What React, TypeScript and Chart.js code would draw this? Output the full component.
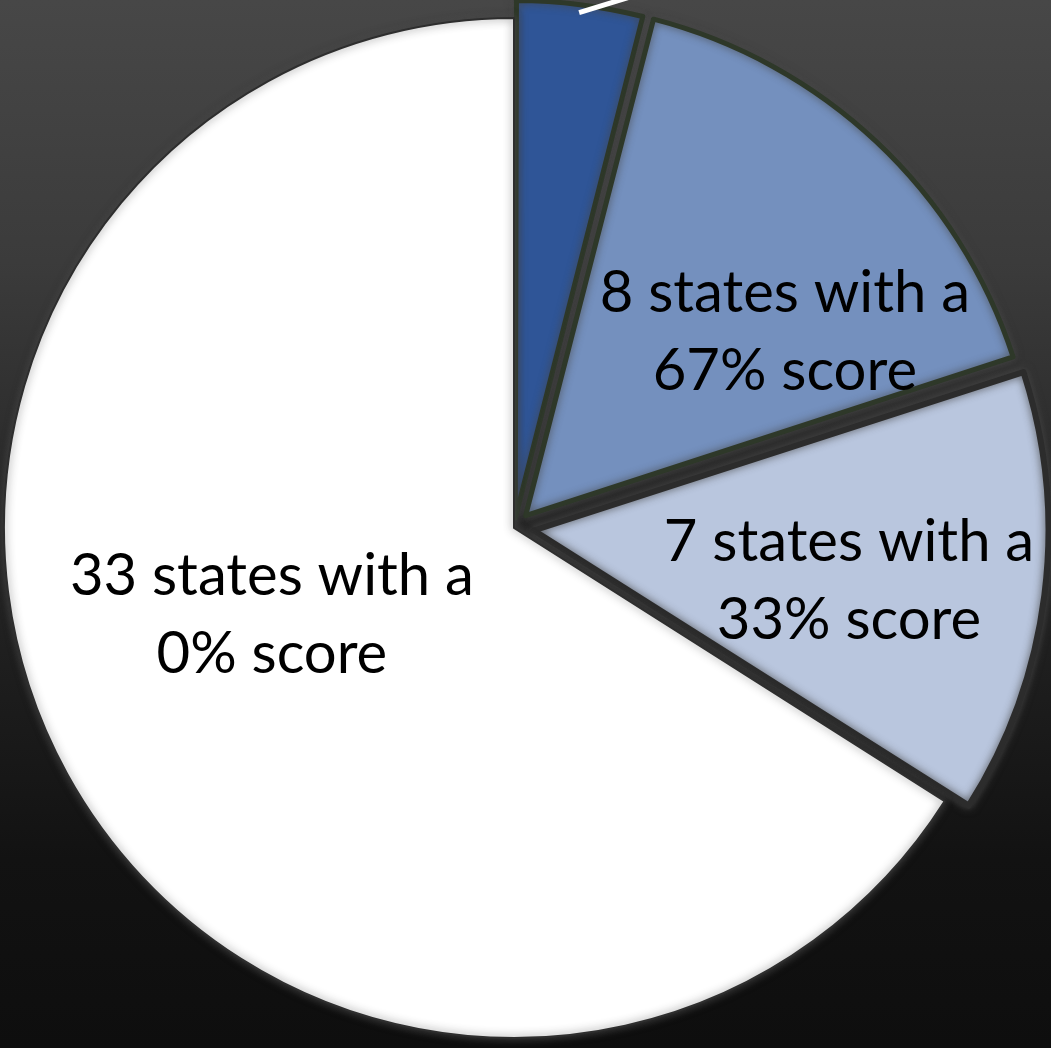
import React, { useEffect, useRef } from "react";
import { Chart, registerables } from "chart.js";

Chart.register(...registerables);

// ---- data ----
const categories = [
  "2 states with a 100% score",
  "8 states with a 67% score",
  "7 states with a 33% score",
  "33 states with a 0% score",
];
const stateCounts = [2, 8, 7, 33];
const labelLines = [
  ["2 states with a", "100% score"],
  ["8 states with a", "67% score"],
  ["7 states with a", "33% score"],
  ["33 states with a", "0% score"],
];

// ---- styles ----
const sliceColors = ["#2F5597", "#7490BE", "#B9C6DE", "#FFFFFF"];
const sliceBorderColors = ["#2E3829", "#2E3829", "#2C2C2C", "#2E2E2E"];
const sliceBorderWidths = [5, 5, 6, 2];
const sliceExplode = [40, 68, 80, 0]; // chart.js offset option (px*4)
// label anchor: angle (deg, clockwise from top) and distance from slice vertex
const labelAngleDeg = [20, 54.6, 98.9, 250.4];
const labelDistance = [620, 318, 319, 257];
const LABEL_FONT = "58px Lato, 'Open Sans', sans-serif";
const LINE_GAP = 78;

const labelPlugin = {
  id: "sliceLabels",
  beforeDatasetsDraw(chart: any) {
    const ctx = chart.ctx;
    ctx.save();
    ctx.shadowColor = "rgba(70,70,70,0.9)";
    ctx.shadowBlur = 8;
  },
  afterDatasetsDraw(chart: any) {
    const ctx = chart.ctx;
    ctx.restore();
    const meta = chart.getDatasetMeta(0);
    meta.data.forEach((el: any, i: number) => {
      const mid = (el.startAngle + el.endAngle) / 2;
      const t = (el.options.offset || 0) / 4;
      const vx = el.x + Math.cos(mid) * t;
      const vy = el.y + Math.sin(mid) * t;
      const a = (labelAngleDeg[i] * Math.PI) / 180;
      const ax = vx + Math.sin(a) * labelDistance[i];
      const ay = vy - Math.cos(a) * labelDistance[i];
      ctx.save();
      if (i === 0) {
        // leader line from slice edge toward the (off-page) label
        const fix = 1 - Math.sin(Math.min(Math.PI, el.circumference));
        const R = el.outerRadius + t * fix - 8;
        const sx = vx + Math.cos(mid) * R;
        const sy = vy + Math.sin(mid) * R;
        const la = (73 * Math.PI) / 180;
        ctx.strokeStyle = "#FFFFFF";
        ctx.lineWidth = 5;
        ctx.beginPath();
        ctx.moveTo(sx, sy);
        ctx.lineTo(sx + Math.sin(la) * 90, sy - Math.cos(la) * 90);
        ctx.stroke();
      }
      ctx.fillStyle = i === 0 ? "#FFFFFF" : "#000000";
      ctx.font = LABEL_FONT;
      ctx.textAlign = "center";
      ctx.textBaseline = "alphabetic";
      const lines = labelLines[i];
      const b0 = ay + 20 - (LINE_GAP * (lines.length - 1)) / 2;
      lines.forEach((ln, k) => ctx.fillText(ln, ax, b0 + k * LINE_GAP));
      ctx.restore();
    });
  },
};

export default function App() {
  const ref = useRef<HTMLCanvasElement | null>(null);
  useEffect(() => {
    if (!ref.current) return;
    const chart = new Chart(ref.current, {
      type: "pie",
      data: {
        labels: categories,
        datasets: [
          {
            data: stateCounts,
            backgroundColor: sliceColors,
            borderColor: sliceBorderColors,
            borderWidth: sliceBorderWidths,
            offset: sliceExplode,
            borderJoinStyle: "round",
          } as any,
        ],
      },
      options: {
        responsive: false,
        animation: false,
        radius: 510,
        rotation: 0,
        layout: { padding: { left: 0, top: 0, bottom: 0, right: 23 } },
        plugins: {
          legend: { display: false },
          tooltip: { enabled: false },
          title: { display: false },
        },
        events: [],
      } as any,
      plugins: [labelPlugin],
    });
    return () => chart.destroy();
  }, []);

  return (
    <div
      style={{
        position: "fixed",
        left: 0,
        top: 0,
        width: 1051,
        height: 1048,
        overflow: "hidden",
        background:
          "linear-gradient(180deg, #474747 0%, #3b3b3b 25%, #2b2b2b 45%, #1d1d1d 65%, #121212 82%, #0e0e0e 100%)",
      }}
    >
      <canvas
        ref={ref}
        width={1051}
        height={1056}
        style={{ position: "absolute", left: 0, top: 0, width: 1051, height: 1056 }}
      />
    </div>
  );
}
